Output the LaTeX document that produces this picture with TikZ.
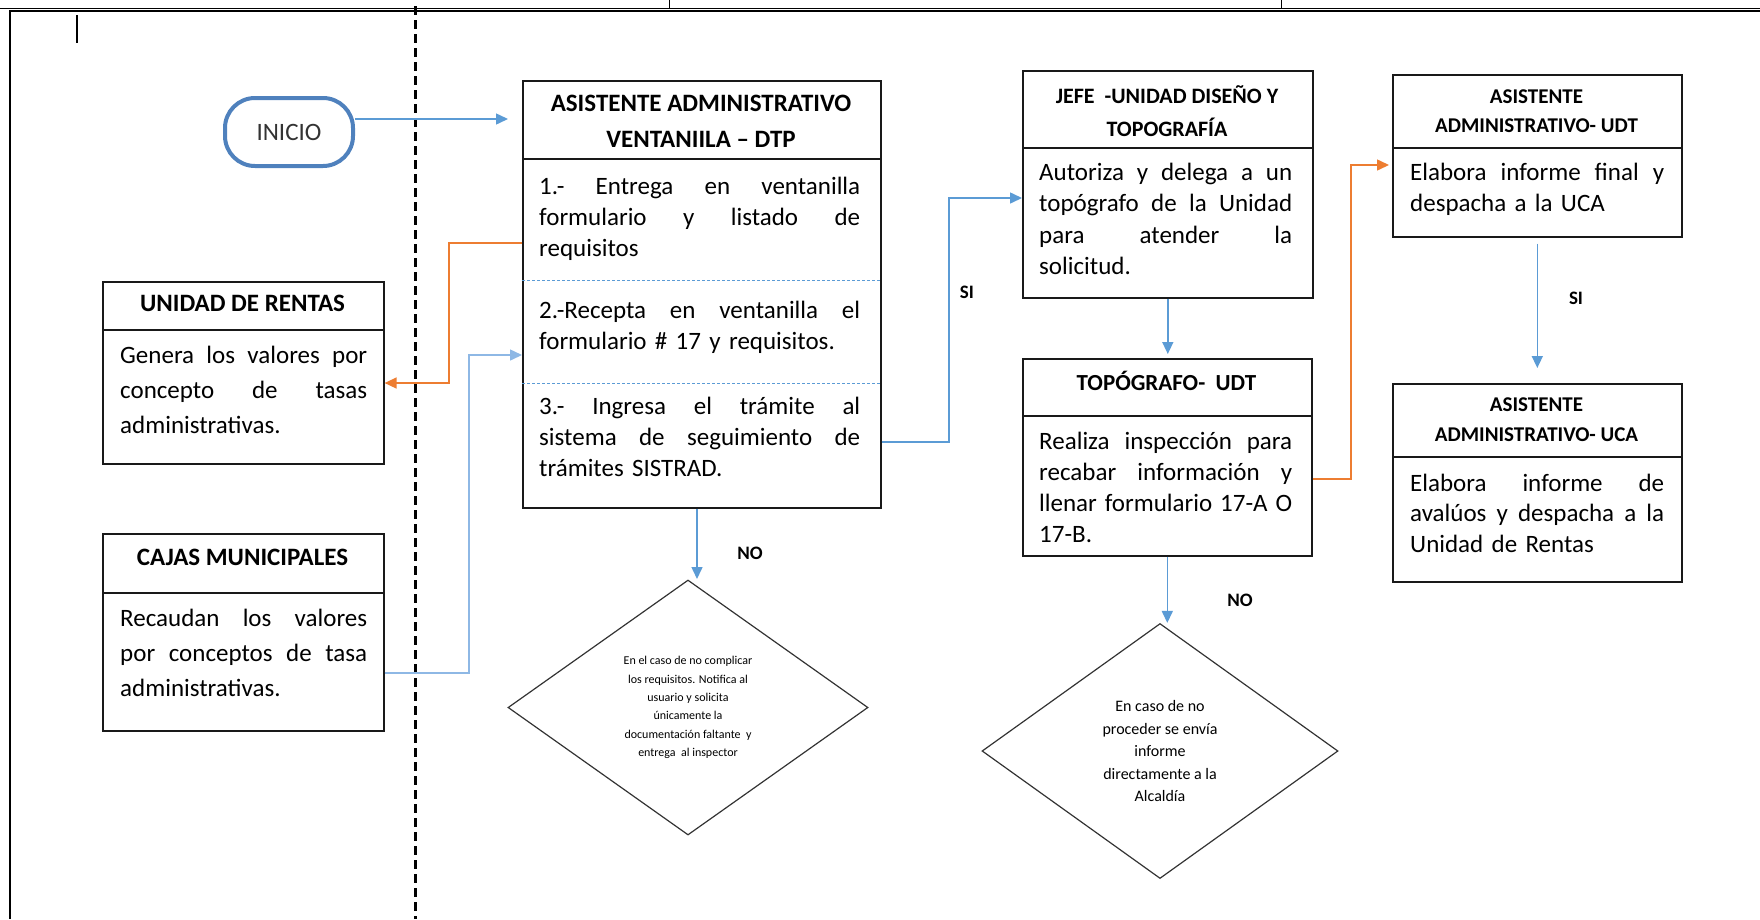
\documentclass[tikz,border=0pt]{standalone}
\usepackage{fontspec}
\setmainfont{Carlito}
\usetikzlibrary{arrows.meta,shapes.geometric,calc}
\setlength{\parindent}{0pt}
\definecolor{lblue}{HTML}{5B9BD5}
\definecolor{pblue}{HTML}{8EB8E5}
\definecolor{orng}{HTML}{ED7D31}
\definecolor{iniblue}{HTML}{4F81BD}
\newcommand\jl[2]{\leavevmode{\spaceskip=0.23em plus 1fill\xspaceskip=0.23em plus 1fill\relax\hbox to #1pt{#2}}}
\newcommand\st{\rule{0pt}{24pt}}
\begin{document}
\begin{tikzpicture}[x=1pt,y=-1pt,
  boxn/.style={draw=black!90, line width=1.6pt, anchor=north west, inner sep=0pt},
  divl/.style={draw=black!90, line width=1.6pt},
  dotl/.style={draw=lblue, line width=1pt, dash pattern=on 3pt off 2pt},
  hdr/.style={inner sep=0pt, align=flush center, anchor=north},
  txt/.style={inner sep=0pt, align=left, anchor=north west, text width=#1},
  lbl/.style={inner sep=0pt, font={\bfseries\fontsize{19}{22}\selectfont}},
  diam/.style={diamond, draw=black!80, line width=1.2pt, inner sep=0pt, align=flush center},
  barr/.style={draw=lblue, line width=1.5pt, -{Triangle[length=12pt,width=11pt]}},
  oarr/.style={draw=orng, line width=1.5pt, -{Triangle[length=12pt,width=11pt]}}]
\useasboundingbox (0,0) rectangle (1760,919);

% frame lines
\draw[line width=0.8pt] (0,8.5) -- (1760,8.5);
\draw[line width=1.6pt] (10,11) -- (1760,11);
\draw[line width=1pt] (669,0) -- (669,9);
\draw[line width=1pt] (1281,0) -- (1281,9);
\draw[line width=1.6pt] (10,10) -- (10,919);
\draw[line width=3pt, dash pattern=on 9pt off 5pt] (415,6) -- (415,919);
\draw[line width=2.5pt] (77,15) -- (77,43);

% INICIO
\node[draw=iniblue, line width=4pt, rounded corners=30pt, minimum width=128, minimum height=68,
  font={\fontsize{25}{30}\selectfont}, text=black!80] (inicio) at (289,132) {INICIO};

% ASISTENTE DTP
\node[boxn, minimum width=358, minimum height=427] (asis) at (522,80) {};
\draw[divl] (522,159) -- (880,159);
\draw[dotl] (522,280) -- (880,280);
\draw[dotl] (522,383) -- (880,383);
\node[hdr, text width=350, font={\bfseries\fontsize{25}{36}\selectfont}] (asisH) at (701,87)
  {\st ASISTENTE ADMINISTRATIVO\\VENTANIILA – DTP};
\node[txt=321, font={\fontsize{25}{30.8}\selectfont}] (asis1) at (539,170.5)
  {\st\jl{321}{1.- Entrega en ventanilla}\\\jl{321}{formulario y listado de}\\requisitos};
\node[txt=321, font={\fontsize{25}{31}\selectfont}] (asis2) at (539,294.5)
  {\st\jl{321}{2.-Recepta en ventanilla el}\\formulario \# 17 y requisitos.};
\node[txt=321, font={\fontsize{25}{31}\selectfont}] (asis3) at (539,390)
  {\st\jl{321}{3.- Ingresa el trámite al}\\\jl{321}{sistema de seguimiento de}\\trámites SISTRAD.};

% UNIDAD DE RENTAS
\node[boxn, minimum width=281, minimum height=182] (ren) at (102,281) {};
\draw[divl] (102,330) -- (383,330);
\node[hdr, text width=270, font={\bfseries\fontsize{25}{30}\selectfont}] (renH) at (242.5,287) {\st UNIDAD DE RENTAS};
\node[txt=247, font={\fontsize{25}{35}\selectfont}] (renB) at (120,339)
  {\st\jl{247}{Genera los valores por}\\\jl{247}{concepto de tasas}\\administrativas.};

% CAJAS MUNICIPALES
\node[boxn, minimum width=281, minimum height=197] (caj) at (102,533) {};
\draw[divl] (102,593) -- (383,593);
\node[hdr, text width=270, font={\bfseries\fontsize{25}{30}\selectfont}] (cajH) at (242.5,541) {\st CAJAS MUNICIPALES};
\node[txt=247, font={\fontsize{25}{35}\selectfont}] (cajB) at (120,602)
  {\st\jl{247}{Recaudan los valores}\\\jl{247}{por conceptos de tasa}\\administrativas.};

% JEFE
\node[boxn, minimum width=290, minimum height=227] (jefe) at (1022,70) {};
\draw[divl] (1022,148) -- (1312,148);
\node[hdr, text width=282, font={\bfseries\fontsize{22}{33.5}\selectfont}] (jefeH) at (1167,79)
  {\st JEFE \ -UNIDAD DISEÑO Y\\TOPOGRAFÍA};
\node[txt=253, font={\fontsize{25}{31.5}\selectfont}] (jefeB) at (1039,156)
  {\st\jl{253}{Autoriza y delega a un}\\\jl{253}{topógrafo de la Unidad}\\\jl{253}{para atender la}\\solicitud.};

% TOPOGRAFO
\node[boxn, minimum width=289, minimum height=197] (topo) at (1022,358) {};
\draw[divl] (1022,416) -- (1311,416);
\node[hdr, text width=282, font={\bfseries\fontsize{23}{30}\selectfont}] (topoH) at (1166.5,366)
  {\st TOPÓGRAFO-\ \ UDT};
\node[txt=253, font={\fontsize{25}{31}\selectfont}] (topoB) at (1039,425)
  {\st\jl{253}{Realiza inspección para}\\\jl{253}{recabar información y}\\\jl{253}{llenar formulario 17-A O}\\17-B.};

% ASISTENTE UDT
\node[boxn, minimum width=289, minimum height=162] (udt) at (1392,74) {};
\draw[divl] (1392,148) -- (1681,148);
\node[hdr, text width=282, font={\bfseries\fontsize{21}{29.8}\selectfont}] (udtH) at (1536.5,78.9)
  {\st ASISTENTE\\ADMINISTRATIVO- UDT};
\node[txt=254, font={\fontsize{25}{31.1}\selectfont}] (udtB) at (1410,156)
  {\st\jl{254}{Elabora informe final y}\\despacha a la UCA};

% ASISTENTE UCA
\node[boxn, minimum width=289, minimum height=198] (uca) at (1392,383) {};
\draw[divl] (1392,457) -- (1681,457);
\node[hdr, text width=282, font={\bfseries\fontsize{21}{29.7}\selectfont}] (ucaH) at (1536.5,387.6)
  {\st ASISTENTE\\ADMINISTRATIVO- UCA};
\node[txt=254, font={\fontsize{25}{30.5}\selectfont}] (ucaB) at (1410,467)
  {\st\jl{254}{Elabora informe de}\\\jl{254}{avalúos y despacha a la}\\Unidad de Rentas};

% diamonds
\node[diam, minimum width=360, minimum height=255, font={\fontsize{12}{18.3}\selectfont}] (d1) at (688,707.5)
  {En el caso de no complicar\\los requisitos. Notifica al\\usuario y solicita\\únicamente la\\documentación faltante \ y\\entrega \ al inspector};
\node[diam, minimum width=356, minimum height=255, font={\fontsize{16}{22.5}\selectfont}] (d2) at (1160,751)
  {En caso de no\\proceder se envía\\informe\\directamente a la\\Alcaldía};

% labels
\node[lbl] (si1) at (967,292) {SI};
\node[lbl] (no1) at (750,553) {NO};
\node[lbl] (no2) at (1240,600) {NO};
\node[lbl] (si2) at (1576,298) {SI};

% connectors
\coordinate (c1) at (508,119);
\draw[barr] (inicio.east |- c1) -- (c1);

\coordinate (o1) at (449,243);
\coordinate (o2) at (449,383);
\draw[oarr] (asis.west |- o1) -- (o1) -- (o2) -- (ren.east |- o2);

\coordinate (b1) at (469,673);
\coordinate (b2) at (469,355);
\draw[barr, draw=pblue] (caj.east |- b1) -- (b1) -- (b2) -- (asis.west |- b2);

\coordinate (s1) at (949,442);
\coordinate (s2) at (949,198);
\draw[barr] (asis.east |- s1) -- (s1) -- (s2) -- (jefe.west |- s2);

\draw[barr, shorten >=4pt] (jefe.south) -- (jefe.south |- topo.north);
\draw[barr] (topo.south) -- (topo.south |- d2.north);

\coordinate (q1) at (1351,479);
\coordinate (q2) at (1351,165);
\draw[oarr, shorten >=3pt] (topo.east |- q1) -- (q1) -- (q2) -- (udt.west |- q2);

\draw[barr, shorten <=6pt, shorten >=15pt] (udt.south) -- (uca.north);

\coordinate (d1t) at (697,579);
\draw[barr] (asis.south -| d1t) -- (d1t);
\end{tikzpicture}
\end{document}
